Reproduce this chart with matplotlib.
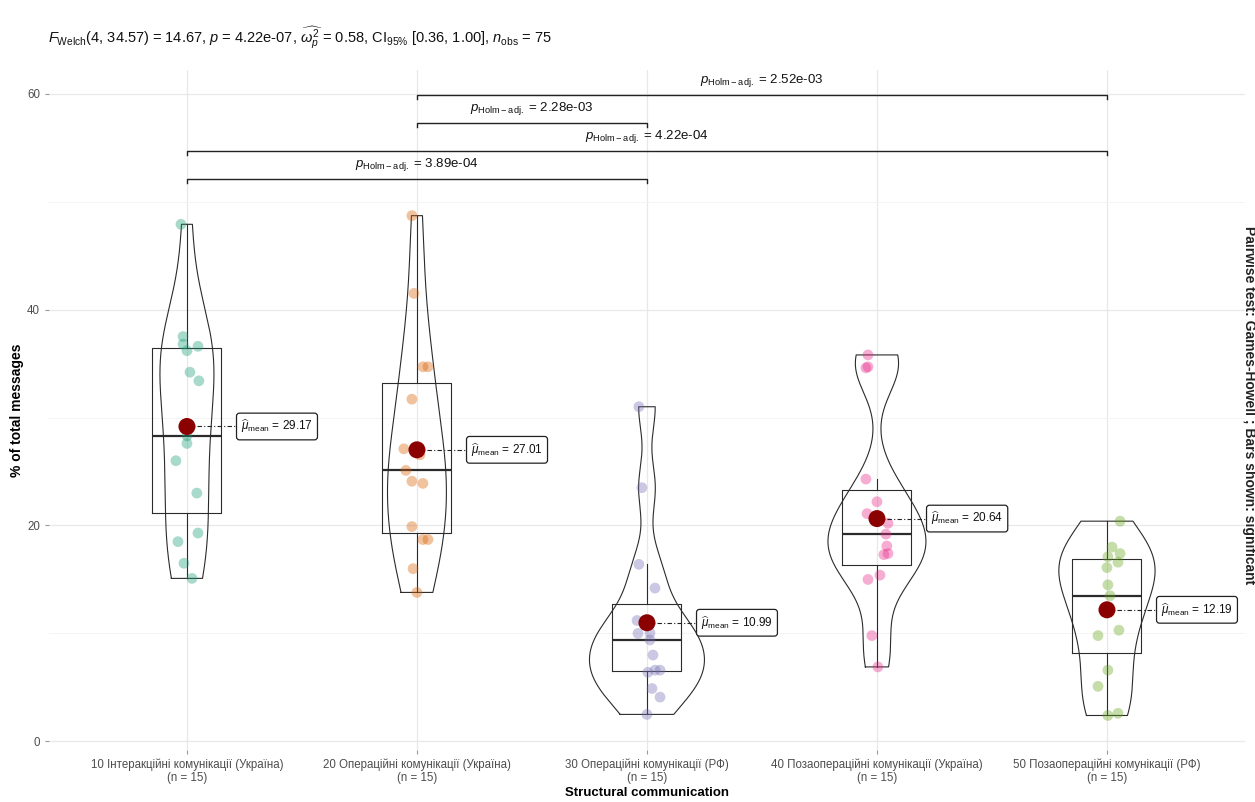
import numpy as np
import matplotlib
matplotlib.use('Agg')
import matplotlib.pyplot as plt
from matplotlib.ticker import MultipleLocator

# шрифти: Liberation Sans (метрики Arial) + запасний DejaVu
plt.rcParams['font.family'] = ['Liberation Sans', 'DejaVu Sans']
plt.rcParams['mathtext.fontset'] = 'custom'
plt.rcParams['mathtext.rm'] = 'Liberation Sans'
plt.rcParams['mathtext.it'] = 'Liberation Sans:italic'
plt.rcParams['mathtext.bf'] = 'Liberation Sans:bold'

# групи (категорії осі X)
groups = [
    "10 Інтеракційні комунікації (Україна)",
    "20 Операційні комунікації (Україна)",
    "30 Операційні комунікації (РФ)",
    "40 Позаопераційні комунікації (Україна)",
    "50 Позаопераційні комунікації (РФ)",
]
n_obs = [15, 15, 15, 15, 15]

# значення (% of total messages)
g1 = [47.9, 37.5, 36.8, 36.2, 36.6, 33.4, 34.2, 28.3, 27.6, 26.0, 23.0, 19.3, 18.5, 16.5, 15.1]
g2 = [48.7, 41.5, 34.7, 34.7, 31.7, 27.1, 26.55, 25.1, 24.1, 23.9, 19.9, 18.7, 18.7, 16.0, 13.8]
g3 = [31.0, 23.5, 16.4, 14.2, 11.2, 10.05, 10.0, 9.4, 8.0, 6.6, 6.6, 6.4, 4.9, 4.1, 2.5]
g4 = [35.8, 34.7, 34.6, 24.3, 22.2, 21.1, 20.2, 19.2, 18.1, 17.4, 17.3, 15.4, 15.0, 9.8, 6.9]
g5 = [20.4, 18.0, 17.4, 17.1, 16.6, 16.1, 14.5, 13.5, 12.45, 10.3, 9.8, 6.6, 5.1, 2.6, 2.4]
values = [g1, g2, g3, g4, g5]

# зсув точок по X (jitter), у частках ширини категорії
j1 = [-0.026, -0.017, -0.017, 0.0, 0.048, 0.052, 0.013, 0.0, 0.0, -0.048, 0.043, 0.048, -0.039, -0.013, 0.022]
j2 = [-0.022, -0.013, 0.026, 0.048, -0.022, -0.057, 0.013, -0.048, -0.022, 0.026, -0.022, 0.026, 0.048, -0.017, 0.0]
j3 = [-0.035, -0.022, -0.035, 0.035, -0.043, 0.013, -0.039, 0.013, 0.026, 0.035, 0.057, 0.004, 0.022, 0.057, 0.0]
j4 = [-0.039, -0.039, -0.048, -0.048, 0.0, -0.043, 0.048, 0.039, 0.043, 0.048, 0.030, 0.013, -0.039, -0.022, 0.004]
j5 = [0.057, 0.022, 0.057, 0.004, 0.048, 0.0, 0.004, 0.013, 0.0, 0.052, -0.039, 0.004, -0.039, 0.048, 0.004]
jitter = [j1, j2, j3, j4, j5]

means = [29.17, 27.01, 10.99, 20.64, 12.19]

# попарні порівняння (Games-Howell, Holm)
pairs = [(1, 3), (1, 5), (2, 3), (2, 5)]
pair_p = ["3.89e-04", "4.22e-04", "2.28e-03", "2.52e-03"]
pair_y = [52.1, 54.7, 57.3, 59.9]

colors = ['#1B9E77', '#D95F02', '#7570B3', '#E7298A', '#66A61E']


# nrd0(): ширина вікна як у R
def nrd0(x):
    sd = np.std(x, ddof=1)
    q75, q25 = np.percentile(x, [75, 25])
    lo = min(sd, (q75 - q25) / 1.34)
    return 0.9 * lo * len(x) ** -0.2


def density(x, grid, bw):
    z = (grid[:, None] - x[None, :]) / bw
    return np.exp(-0.5 * z ** 2).sum(1) / (len(x) * bw * np.sqrt(2 * np.pi))


fig = plt.figure(figsize=(12.55, 8.02), dpi=100)
ax = fig.add_axes([0.039, 0.0648, 0.953, 0.848])

# violin (scale = "area")
grids, dens = [], []
for v in values:
    x = np.array(v)
    grid = np.linspace(x.min(), x.max(), 512)
    grids.append(grid)
    dens.append(density(x, grid, nrd0(x)))
dmax = max(d.max() for d in dens)
for i, (grid, d) in enumerate(zip(grids, dens)):
    pos = i + 1
    hw = d / dmax * 0.25
    xs = np.concatenate([pos - hw, (pos + hw)[::-1], [pos - hw[0]]])
    ys = np.concatenate([grid, grid[::-1], [grid[0]]])
    ax.plot(xs, ys, color='#2b2b2b', lw=0.8, zorder=2)

# boxplot
ax.boxplot(values, positions=range(1, 6), widths=0.3, showfliers=False,
           showcaps=False, whis=1.5,
           boxprops=dict(color='#2b2b2b', lw=0.8),
           whiskerprops=dict(color='#2b2b2b', lw=0.8),
           medianprops=dict(color='#2b2b2b', lw=1.6),
           zorder=2)

# точки
for i, (v, j) in enumerate(zip(values, jitter)):
    ax.scatter(np.array(j) + i + 1, v, s=60, color=colors[i], alpha=0.38,
               edgecolors='none', zorder=3)

# середні + підписи
for i, m in enumerate(means):
    pos = i + 1
    ax.scatter([pos], [m], s=150, color='#8B0000', zorder=5, edgecolors='none')
    ax.plot([pos, pos + 0.225], [m, m], color='#222222', lw=0.8,
            ls=(0, (4, 2, 1, 2)), zorder=4)
    ax.text(pos + 0.235, m, r"$\widehat{\mu}_{\mathrm{mean}}$ = " + f"{m:.2f}",
            ha='left', va='center', fontsize=8.5, color='#111111', zorder=6,
            bbox=dict(boxstyle='round,pad=0.38,rounding_size=0.25',
                      fc='white', ec='#222222', lw=0.9))

# дужки попарних порівнянь
for (a, b), p, y in zip(pairs, pair_p, pair_y):
    ax.plot([a, a, b, b], [y - 0.35, y, y, y - 0.35], color='#222222', lw=1.0, zorder=4)
    ax.text((a + b) / 2, y + 0.55, r"$\mathit{p}_{\mathrm{Holm-adj.}}$ = " + p,
            ha='center', va='bottom', fontsize=9.5, color='#111111')

# осі
ax.set_xlim(0.4, 5.6)
ax.set_ylim(-0.8, 62.2)
ax.set_xticks(range(1, 6))
ax.set_xticklabels([f"{g}\n(n = {n})" for g, n in zip(groups, n_obs)],
                   fontsize=8.3, color='#4d4d4d', linespacing=1.1)
ax.set_yticks([0, 20, 40, 60])
ax.yaxis.set_minor_locator(MultipleLocator(10))
ax.tick_params(axis='y', labelsize=8.3, labelcolor='#4d4d4d', length=3, color='#999999')
ax.tick_params(axis='x', length=3, color='#999999', pad=3)
ax.tick_params(which='minor', length=0)
for s in ax.spines.values():
    s.set_visible(False)
ax.grid(True, which='major', color='#e8e8e8', lw=0.9, zorder=0)
ax.grid(True, which='minor', axis='y', color='#f2f2f2', lw=0.6, zorder=0)
ax.set_axisbelow(True)

ax.set_ylabel("% of total messages", fontsize=10, fontweight='bold', labelpad=2)
ax.set_xlabel("Structural communication", fontsize=9.5, fontweight='bold', labelpad=2)

# заголовок (результат тесту Велча)
fig.text(48 / 1255, 1 - 38 / 802,
         r"$\mathit{F}_{\mathrm{Welch}}$(4, 34.57) = 14.67, $\mathit{p}$ = 4.22e-07, "
         r"$\widehat{\omega_p^2}$ = 0.58, CI$_{95\%}$ [0.36, 1.00], $\mathit{n}_{\mathrm{obs}}$ = 75",
         ha='left', va='center', fontsize=10.5, color='#111111')

# підпис праворуч
fig.text(1249 / 1255, 1 - 405 / 802,
         "Pairwise test: Games-Howell ; Bars shown: significant",
         rotation=270, ha='center', va='center', fontsize=10, fontweight='bold',
         color='#222222')

fig.savefig('out.png', dpi=100)
